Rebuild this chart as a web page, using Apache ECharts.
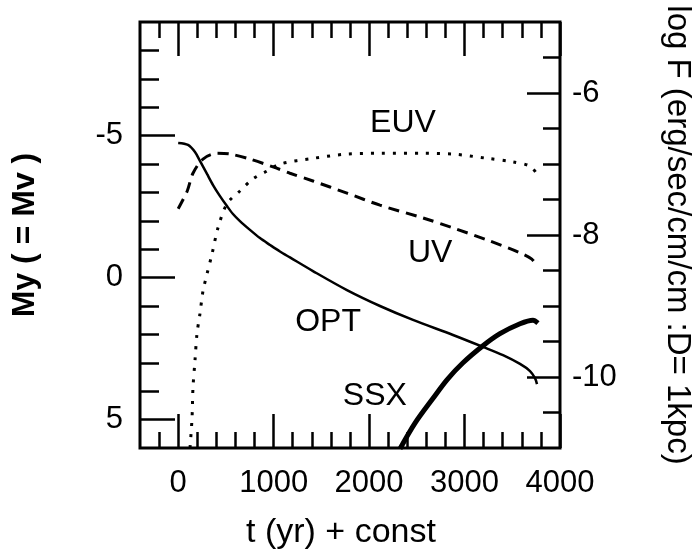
<!DOCTYPE html>
<html>
<head>
<meta charset="utf-8">
<script src="https://cdn.jsdelivr.net/npm/echarts@6.0.0/dist/echarts.min.js"></script>
<style>
  html, body { margin: 0; padding: 0; background: #fff; }
  #chart { width: 698px; height: 553px; }
</style>
</head>
<body>
<div id="chart"></div>
<script>
// tick positions
var xMajorTicks = [0, 1000, 2000, 3000, 4000];
var xMinorTicks = [-200, 200, 400, 600, 800, 1200, 1400, 1600, 1800, 2200, 2400, 2600, 2800, 3200, 3400, 3600, 3800];
var magMajorTicks = [-5, 0, 5];
var magMinorTicks = [-8, -7, -6, -4, -3, -2, -1, 1, 2, 3, 4];
var fluxMajorTicks = [-10, -8, -6];
var fluxMinorTicks = [-10.5, -9.5, -9, -8.5, -7.5, -7, -6.5, -5.5];

// OPT in My (left axis)
var optTime = [0, 103, 176, 228, 302, 365, 438, 511, 574, 647, 752, 857, 962, 1066, 1171, 1412, 1768, 2114, 2460, 2879, 3193, 3403, 3581, 3686, 3738, 3759];
var optMag = [-4.74, -4.67, -4.42, -4.11, -3.65, -3.26, -2.87, -2.52, -2.24, -1.99, -1.68, -1.39, -1.15, -0.92, -0.71, -0.23, 0.44, 1.0, 1.49, 2.02, 2.44, 2.73, 3.04, 3.29, 3.54, 3.75];

// UV, EUV, SSX in log F (right axis)
var uvTime = [0, 95, 155, 260, 405, 545, 750, 993, 1171, 1412, 1768, 2114, 2565, 2879, 3236, 3581, 3705, 3759];
var uvFlux = [-7.63, -7.38, -7.13, -6.93, -6.85, -6.86, -6.93, -7.04, -7.13, -7.24, -7.41, -7.58, -7.76, -7.90, -8.07, -8.25, -8.34, -8.44];

var euvTime = [124, 145, 155, 176, 197, 228, 260, 302, 354, 417, 511, 647, 783, 930, 1066, 1412, 1768, 2114, 2565, 2879, 3236, 3508, 3686, 3759];
var euvFlux = [-11.0, -10.58, -10.15, -9.77, -9.39, -9.11, -8.79, -8.55, -8.27, -7.90, -7.56, -7.38, -7.21, -7.10, -7.00, -6.92, -6.86, -6.85, -6.85, -6.86, -6.92, -6.97, -7.03, -7.14];

var ssxTime = [2324, 2481, 2670, 2816, 2984, 3193, 3371, 3581, 3717, 3769];
var ssxFlux = [-11.01, -10.65, -10.30, -10.04, -9.80, -9.56, -9.39, -9.25, -9.20, -9.24];

function pairs(xs, ys) {
    var out = [];
    for (var i = 0; i < xs.length; i++) out.push([xs[i], ys[i]]);
    return out;
}

var FONT = '"Liberation Sans", Arial, sans-serif';

function tagPoint(text, t, v) {
    return {
        symbol: 'circle',
        symbolSize: 0,
        silent: true,
        label: {
            show: true,
            position: 'inside',
            formatter: text,
            color: '#000',
            fontSize: 32,
            fontFamily: FONT
        },
        data: [{ coord: [t, v] }]
    };
}

function plain(v) { return String(v); }

function xAxisDef(pos, ticks, len, labels) {
    return {
        type: 'value', position: pos, min: -400, max: 4000,
        axisLine: { show: false, onZero: false },
        splitLine: { show: false },
        axisTick: { show: true, inside: true, length: len, customValues: ticks,
            lineStyle: { color: '#000', width: 2.5 } },
        axisLabel: labels ? { show: true, customValues: ticks, margin: 20, formatter: plain,
            color: '#000', fontSize: 31, fontFamily: FONT } : { show: false }
    };
}

function yAxisDef(pos, min, max, inverse, ticks, len, labels, margin) {
    return {
        type: 'value', position: pos, min: min, max: max, inverse: inverse,
        axisLine: { show: false, onZero: false },
        splitLine: { show: false },
        axisTick: { show: true, inside: true, length: len, customValues: ticks,
            lineStyle: { color: '#000', width: 2.5 } },
        axisLabel: labels ? { show: true, customValues: ticks, margin: margin, formatter: plain,
            color: '#000', fontSize: 31, fontFamily: FONT } : { show: false }
    };
}

var chart = echarts.init(document.getElementById('chart'));

chart.setOption({
    animation: false,
    backgroundColor: '#fff',
    grid: {
        left: 140, right: 138, top: 22, bottom: 105,
        show: true, borderColor: '#000', borderWidth: 3, backgroundColor: 'transparent'
    },
    xAxis: [
        xAxisDef('bottom', xMajorTicks, 34, true),
        xAxisDef('bottom', xMinorTicks, 16, false),
        xAxisDef('top', xMajorTicks, 34, false),
        xAxisDef('top', xMinorTicks, 16, false)
    ],
    yAxis: [
        yAxisDef('left', -9, 6, true, magMajorTicks, 35, true, 17),
        yAxisDef('left', -9, 6, true, magMinorTicks, 19, false),
        yAxisDef('right', -11, -5, false, fluxMajorTicks, 33, true, 12),
        yAxisDef('right', -11, -5, false, fluxMinorTicks, 17, false)
    ],
    graphic: [
        { type: 'text', x: 341, y: 533, style: { text: 't (yr) + const', font: '34px ' + FONT,
            fill: '#000', textAlign: 'center', textVerticalAlign: 'middle' } },
        { type: 'text', x: 25, y: 235, rotation: Math.PI / 2, style: { text: 'My ( = Mv )', font: 'bold 32px ' + FONT,
            fill: '#000', textAlign: 'center', textVerticalAlign: 'middle' } },
        { type: 'text', x: 677, y: 235, rotation: -Math.PI / 2, style: { text: 'log F (erg/sec/cm/cm :D= 1kpc)',
            font: '33px ' + FONT, fill: '#000', textAlign: 'center', textVerticalAlign: 'middle' } }
    ],
    series: [
        {
            name: 'OPT', type: 'line', xAxisIndex: 0, yAxisIndex: 0,
            data: pairs(optTime, optMag), smooth: 0.3, symbol: 'none',
            lineStyle: { color: '#000', width: 2.5 },
            markPoint: tagPoint('OPT', 1570, 1.56)
        },
        {
            name: 'UV', type: 'line', xAxisIndex: 0, yAxisIndex: 2,
            data: pairs(uvTime, uvFlux), smooth: 0.3, symbol: 'none',
            lineStyle: { color: '#000', width: 3, type: [11, 7] },
            markPoint: tagPoint('UV', 2640, -8.25)
        },
        {
            name: 'EUV', type: 'line', xAxisIndex: 0, yAxisIndex: 2,
            data: pairs(euvTime, euvFlux), smooth: 0.3, symbol: 'none',
            lineStyle: { color: '#000', width: 3, type: [3, 8] },
            markPoint: tagPoint('EUV', 2355, -6.42)
        },
        {
            name: 'SSX', type: 'line', xAxisIndex: 0, yAxisIndex: 2,
            data: pairs(ssxTime, ssxFlux), smooth: 0.3, symbol: 'none',
            lineStyle: { color: '#000', width: 5 },
            markPoint: tagPoint('SSX', 2060, -10.27)
        }
    ]
});
</script>
</body>
</html>
